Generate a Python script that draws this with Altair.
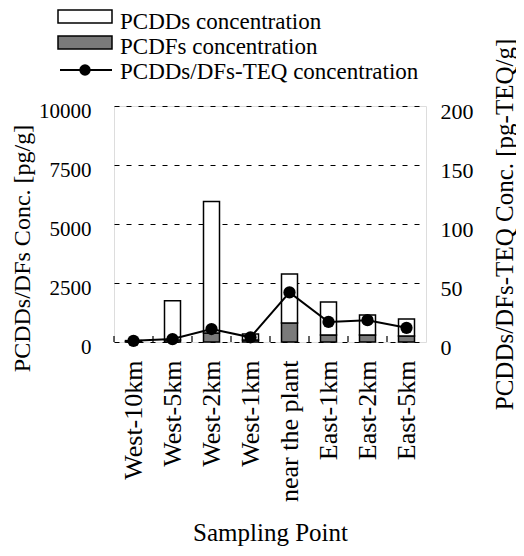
import altair as alt
import pandas as pd

sites = ["West-10km", "West-5km", "West-2km", "West-1km", "near the plant",
         "East-1km", "East-2km", "East-5km"]
pcdds = [40, 1670, 5570, 250, 2080, 1400, 840, 725]
pcdfs = [20, 80, 380, 90, 800, 300, 300, 250]
teq = [1.0, 2.5, 11, 4, 42, 17, 18.5, 12]
components = ["PCDFs concentration", "PCDDs concentration"]
legend_labels = ["PCDDs concentration", "PCDFs concentration",
                 "PCDDs/DFs-TEQ concentration"]
left_ticks = [0, 2500, 5000, 7500, 10000]
right_ticks = [0, 50, 100, 150, 200]

FONT = "Liberation Serif"

rows = []
for s, f, d in zip(sites, pcdfs, pcdds):
    rows.append({"site": s, "component": components[0], "value": f, "ord": 0})
    rows.append({"site": s, "component": components[1], "value": d, "ord": 1})
bars_df = pd.DataFrame(rows)
teq_df = pd.DataFrame({"site": sites, "teq": teq})

xscale = alt.Scale(domain=sites, paddingInner=0, paddingOuter=0)
xaxis = alt.Axis(labelAngle=270, labelAlign="right", labelBaseline="middle",
                 labelPadding=18, labelFontSize=26, labelFont=FONT, labelColor="black",
                 labelLimit=300, ticks=False, tickSize=0, domain=False,
                 title="Sampling Point", titleFont=FONT, titleFontSize=25,
                 titleFontWeight="normal", titleColor="black",
                 titleBaseline="alphabetic", titleAlign="center",
                 titleX=156, titleY=198)
X = alt.X("site:N", sort=sites, scale=xscale, axis=xaxis)

bars = alt.Chart(bars_df).mark_bar(size=16, stroke="black", strokeWidth=1.5).encode(
    x=X,
    y=alt.Y("value:Q", stack="zero",
            scale=alt.Scale(domain=[0, 10000], nice=False),
            axis=alt.Axis(orient="left", values=left_ticks, format="d",
                          grid=True, gridDash=[5, 7], gridColor="black", gridWidth=1,
                          gridOpacity=1, ticks=False, tickSize=0, domain=False,
                          labelPadding=23, labelFontSize=21, labelFont=FONT,
                          labelColor="black", labelOffset=5,
                          title="PCDDs/DFs Conc. [pg/g]", titleFont=FONT,
                          titleFontSize=24, titleFontWeight="normal",
                          titleColor="black", titleAngle=270, titleAlign="center",
                          titleBaseline="alphabetic", titleX=-85, titleY=142)),
    fill=alt.Fill("component:N",
                  scale=alt.Scale(domain=components, range=["#7a7a7a", "white"]),
                  legend=None),
    order=alt.Order("ord:Q"),
)

teq_y = alt.Y("teq:Q", scale=alt.Scale(domain=[0, 200], nice=False),
              axis=alt.Axis(orient="right", values=right_ticks, format="d",
                            grid=False, ticks=False, tickSize=0, domain=False,
                            labelPadding=14, labelFontSize=22, labelFont=FONT,
                            labelColor="black", labelOffset=5,
                            title="PCDDs/DFs-TEQ Conc. [pg-TEQ/g]", titleFont=FONT,
                            titleFontSize=25, titleFontWeight="normal",
                            titleColor="black", titleAngle=270, titleAlign="center",
                            titleBaseline="alphabetic", titleX=86, titleY=118))
line = alt.Chart(teq_df).mark_line(color="black", strokeWidth=2).encode(x=X, y=teq_y)
pts = alt.Chart(teq_df).mark_circle(color="black", opacity=1, size=150).encode(x=X, y=teq_y)
teq_layer = alt.layer(line, pts)

xticks = alt.Chart(teq_df).mark_rule(color="black", strokeWidth=1.2).encode(
    x=alt.X("site:N", sort=sites, scale=xscale, axis=xaxis, bandPosition=0),
    y=alt.value(236), y2=alt.value(230))

one = pd.DataFrame({"t": [0]})
leg_rect1 = alt.Chart(one).mark_rect(fill="white", stroke="black", strokeWidth=1.5).encode(
    x=alt.value(-56), x2=alt.value(-2), y=alt.value(-96), y2=alt.value(-83))
leg_rect2 = alt.Chart(one).mark_rect(fill="#7a7a7a", stroke="black", strokeWidth=1.5).encode(
    x=alt.value(-56), x2=alt.value(-2), y=alt.value(-70), y2=alt.value(-57))
leg_line = alt.Chart(one).mark_rule(color="black", strokeWidth=2).encode(
    x=alt.value(-54), x2=alt.value(-2), y=alt.value(-36))
leg_pt = alt.Chart(one).mark_circle(color="black", opacity=1, size=130).encode(
    x=alt.value(-29), y=alt.value(-36))
leg_texts = []
for lab, yy in zip(legend_labels, [-77, -52, -27]):
    leg_texts.append(
        alt.Chart(pd.DataFrame({"t": [lab]})).mark_text(
            align="left", baseline="alphabetic", font=FONT, fontSize=23, color="black"
        ).encode(x=alt.value(6), y=alt.value(yy), text="t:N"))

chart = alt.layer(
    bars, teq_layer, xticks, leg_rect1, leg_rect2, leg_line, leg_pt, *leg_texts
).resolve_scale(y="independent").properties(
    width=312, height=236,
    autosize=alt.AutoSizeParams(type="none"),
    padding={"left": 106, "top": 98, "right": 90, "bottom": 206},
).configure_view(stroke="black", strokeWidth=1.5).configure(background="white")

chart.save("out.html", embed_options={"renderer": "svg", "actions": False})
